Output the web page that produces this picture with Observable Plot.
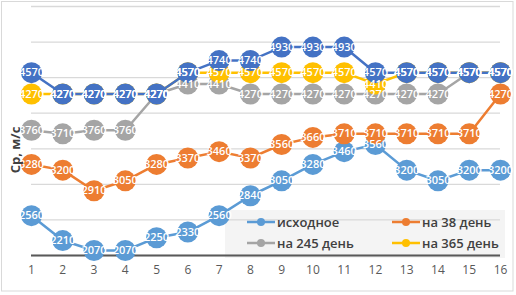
<!DOCTYPE html>
<html>
<head>
<meta charset="utf-8">
<script src="https://cdn.jsdelivr.net/npm/d3@7"></script>
<script src="https://cdn.jsdelivr.net/npm/@observablehq/plot@0.6"></script>
<style>
  html, body { margin: 0; padding: 0; background: #fff; }
  #chart { width: 516px; height: 295px; position: relative; }
</style>
</head>
<body>
<div id="chart"></div>
<script>
const days = [1, 2, 3, 4, 5, 6, 7, 8, 9, 10, 11, 12, 13, 14, 15, 16];
const seriesNames = ["исходное", "на 38 день", "на 245 день", "на 365 день", "ряд 5"];
const seriesColors = ["#5B9BD5", "#ED7D31", "#A5A5A5", "#FFC000", "#4472C4"];
const valuesInitial = [2560, 2210, 2070, 2070, 2250, 2330, 2560, 2840, 3050, 3280, 3460, 3560, 3200, 3050, 3200, 3200];
const valuesDay38   = [3280, 3200, 2910, 3050, 3280, 3370, 3460, 3370, 3560, 3660, 3710, 3710, 3710, 3710, 3710, 4270];
const valuesDay245  = [3760, 3710, 3760, 3760, 4270, 4410, 4410, 4270, 4270, 4270, 4270, 4270, 4270, 4270, 4570, 4570];
const valuesDay365  = [4270, 4270, 4270, 4270, 4270, 4570, 4570, 4570, 4570, 4570, 4570, 4410, 4570, 4570, 4570, 4570];
const valuesSeries5 = [4570, 4270, 4270, 4270, 4270, 4570, 4740, 4740, 4930, 4930, 4930, 4570, 4570, 4570, 4570, 4570];
const yTitle = "Ср, м/с";

const allValues = [valuesInitial, valuesDay38, valuesDay245, valuesDay365, valuesSeries5];
const rows = allValues.flatMap((vals, si) =>
  vals.map((v, i) => ({ x: days[i], y: v, s: seriesNames[si], si })));

const FONT = "'Open Sans', 'Noto Sans', sans-serif";

const seriesMarks = seriesNames.flatMap((name, si) => {
  const data = rows.filter(d => d.si === si);
  return [
    Plot.line(data, { x: "x", y: "y", stroke: seriesColors[si], strokeWidth: 2.5 }),
    Plot.dot(data, { x: "x", y: "y", r: 10.5, fill: seriesColors[si], stroke: "none" })
  ];
});

const plot = Plot.plot({
  width: 516,
  height: 295,
  marginLeft: 31,
  marginRight: 16,
  marginTop: 6,
  marginBottom: 40,
  style: { fontFamily: FONT, background: "transparent", overflow: "visible" },
  x: { domain: [1, 16], ticks: days, tickFormat: d => String(d), tickSize: 0, tickPadding: 10, label: null },
  y: { domain: [2000, 5500], axis: null },
  marks: [
    Plot.gridY({ interval: 500, stroke: "#d9d9d9", strokeOpacity: 1, strokeWidth: 1.3 }),
    Plot.ruleY([2000], { stroke: "#595959", strokeWidth: 2 }),
    ...seriesMarks,
    Plot.text(rows, { x: "x", y: "y", text: d => String(d.y), fill: "white", fontSize: 11, fontWeight: 600 })
  ]
});

const svg = d3.select(plot);
svg.selectAll("[aria-label='x-axis tick label']").attr("fill", "#595959").attr("font-size", 12);

// legend background behind everything
svg.insert("rect", ":first-child")
  .attr("x", 225).attr("y", 210).attr("width", 280).attr("height", 48)
  .attr("fill", "#f2f2f2").attr("fill-opacity", 0.85);
// chart border
svg.insert("rect", ":first-child")
  .attr("x", 1.5).attr("y", 1.5).attr("width", 511.5).attr("height", 289.5)
  .attr("fill", "#fff").attr("stroke", "#d9d9d9").attr("stroke-width", 1);

// y axis title
svg.append("text")
  .attr("transform", "translate(15,150) rotate(-90)")
  .attr("text-anchor", "middle").attr("dy", "0.35em")
  .attr("font-family", FONT).attr("font-size", 13).attr("font-weight", 700)
  .attr("fill", "#404040")
  .text(yTitle);

const legendItems = [
  { si: 0, x: 247, y: 222 },
  { si: 1, x: 392, y: 222 },
  { si: 2, x: 247, y: 243 },
  { si: 3, x: 392, y: 243 }
];
const lg = svg.append("g").attr("font-family", FONT).attr("text-anchor", "start");
legendItems.forEach(it => {
  const c = seriesColors[it.si];
  lg.append("line").attr("x1", it.x).attr("x2", it.x + 28).attr("y1", it.y).attr("y2", it.y)
    .attr("stroke", c).attr("stroke-width", 2.5);
  lg.append("circle").attr("cx", it.x + 14).attr("cy", it.y).attr("r", 4).attr("fill", c);
  lg.append("text").attr("x", it.x + 30).attr("y", it.y).attr("dy", "0.35em")
    .attr("text-anchor", "start")
    .attr("font-size", 13).attr("font-weight", 600).attr("fill", "#404040")
    .text(seriesNames[it.si]);
});

document.getElementById("chart").appendChild(plot);
</script>
</body>
</html>
